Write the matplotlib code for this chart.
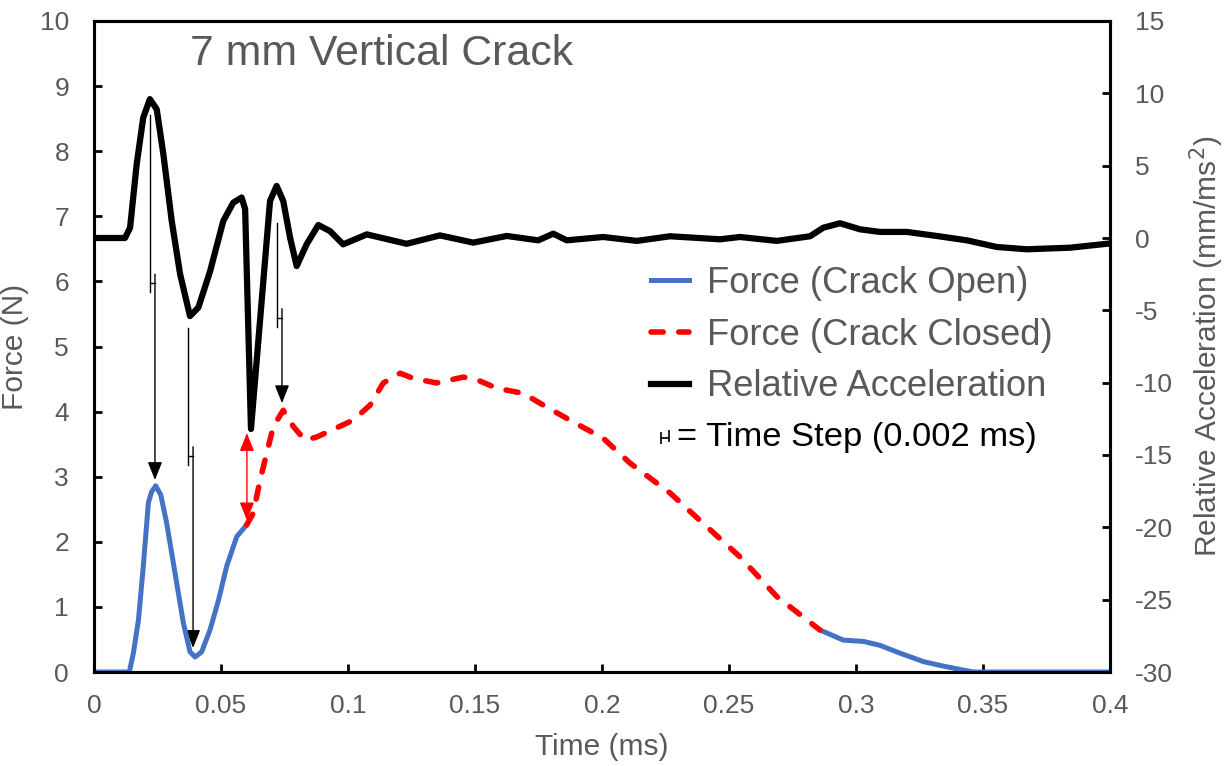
import numpy as np
import matplotlib
matplotlib.use("Agg")
import matplotlib.pyplot as plt
from matplotlib.lines import Line2D
from matplotlib.path import Path

plt.rcParams.update({'font.family': ['Liberation Sans', 'DejaVu Sans']})
plt.rcParams.update({'axes.linewidth': 2.2})
plt.rcParams.update({'axes.unicode_minus': False})

GREY = "#595959"
BLUE = "#4472C4"

# force while the crack is open (first part)
t_open1 = [0, 0.0139, 0.0155, 0.0175, 0.0194, 0.0214, 0.0227, 0.0243, 0.0263, 0.0286,
           0.0319, 0.0352, 0.0378, 0.0398, 0.0424, 0.0457, 0.049, 0.0522, 0.0562, 0.0601]
f_open1 = [0, 0, 0.29, 0.80, 1.62, 2.60, 2.77, 2.86, 2.72, 2.29,
           1.52, 0.75, 0.31, 0.23, 0.31, 0.65, 1.10, 1.62, 2.08, 2.26]

# force while the crack is closed
t_closed = [0.0601, 0.0627, 0.0654, 0.0706, 0.0745, 0.0785, 0.0831, 0.0877, 0.0955, 0.1021,
            0.1087, 0.1139, 0.1205, 0.1257, 0.1349, 0.1454, 0.1507, 0.1585, 0.169, 0.1782,
            0.1887, 0.2005, 0.211, 0.2268, 0.2399, 0.2543, 0.2688, 0.2858]
f_closed = [2.26, 2.44, 2.95, 3.77, 4.02, 3.77, 3.56, 3.61, 3.75, 3.87,
            4.10, 4.44, 4.59, 4.51, 4.44, 4.53, 4.49, 4.36, 4.28, 4.07,
            3.84, 3.59, 3.21, 2.75, 2.28, 1.77, 1.16, 0.645]

# force after the crack opens again
t_open2 = [0.2858, 0.295, 0.3029, 0.3094, 0.3173, 0.3265, 0.3344, 0.3422, 0.3462, 0.4]
f_open2 = [0.645, 0.49, 0.47, 0.41, 0.29, 0.16, 0.09, 0.03, 0, 0]

# relative acceleration (mm/ms^2)
t_acc = [0, 0.0122, 0.0142, 0.0168, 0.0194, 0.022, 0.0247, 0.0273, 0.0306, 0.0339,
         0.0378, 0.0411, 0.0457, 0.0509, 0.0548, 0.0581, 0.0595, 0.0618, 0.0693, 0.0719,
         0.0745, 0.0772, 0.0798, 0.0837, 0.0883, 0.0929, 0.0981, 0.1074, 0.1231, 0.1362,
         0.1493, 0.1625, 0.1749, 0.1808, 0.1861, 0.2005, 0.2137, 0.2268, 0.2465, 0.2543,
         0.2688, 0.2819, 0.2871, 0.2937, 0.3016, 0.3094, 0.32, 0.3318, 0.3436, 0.3554,
         0.3672, 0.3843, 0.3993]
acc = [0, 0, 0.71, 5.1, 8.33, 9.6, 8.9, 5.8, 1.18, -2.5,
       -5.4, -4.8, -2.3, 1.18, 2.44, 2.8, 2.0, -13.2, 2.56, 3.6,
       2.56, 0.02, -1.94, -0.44, 0.9, 0.48, -0.44, 0.25, -0.4, 0.18,
       -0.32, 0.14, -0.16, 0.3, -0.16, 0.07, -0.2, 0.12, -0.09, 0.07,
       -0.2, 0.12, 0.71, 1.02, 0.6, 0.42, 0.42, 0.14, -0.16, -0.62,
       -0.78, -0.67, -0.39]

# time-step markers: acceleration feature -> force feature (0.002 ms later)
step_t = [0.022, 0.037, 0.072]
step_dt = 0.002
step_top = [8.56, 5.28, 6.90]      # top of first leg
step_bar = [5.97, 3.32, 5.44]      # height of connecting bar
step_tip = [2.95, 0.37, 4.13]      # arrow tip on force curve
gap = 0.14

# jump of force when crack closes
jump_t = 0.0602
jump_lo, jump_hi = 2.33, 3.67

fig = plt.figure(figsize=(12.25, 7.66), dpi=100)
ax = fig.add_axes([94/1225, 1-672/766, 1016/1225, 651/766])
ax2 = ax.twinx()

ax.plot(t_open1, f_open1, color=BLUE, lw=3.6, solid_capstyle='round', zorder=3)
ax.plot(t_open2, f_open2, color=BLUE, lw=3.6, solid_capstyle='round', zorder=3)
ax.plot(t_closed, f_closed, color="red", lw=4, dashes=(2.2, 2.8),
        dash_capstyle='round', zorder=3)
ax2.plot(t_acc, acc, color="black", lw=4.5, solid_joinstyle='round', zorder=3)

arrow = dict(arrowstyle='-|>,head_length=0.55,head_width=0.22', color='black',
             lw=1.0, shrinkA=0, shrinkB=0, mutation_scale=20)
for t0, top, bar, tip in zip(step_t, step_top, step_bar, step_tip):
    t1 = t0 + step_dt
    ax.plot([t0, t0], [top, bar - gap], color='black', lw=1.0, zorder=2)
    ax.plot([t0, t1], [bar, bar], color='black', lw=1.0, zorder=2)
    ax.annotate("", xy=(t1, tip), xytext=(t1, bar + gap), arrowprops=arrow, zorder=2)

ax.annotate("", xy=(jump_t, jump_hi), xytext=(jump_t, jump_lo),
            arrowprops=dict(arrowstyle='<|-|>,head_length=0.55,head_width=0.22',
                            color='red', lw=1.0, shrinkA=0, shrinkB=0, mutation_scale=20),
            zorder=2)

ax.set_xlim(0, 0.4)
ax.set_ylim(0, 10)
ax2.set_ylim(-30, 15)
ax.set_xticks(np.arange(0, 0.401, 0.05))
ax.set_xticklabels(["0", "0.05", "0.1", "0.15", "0.2", "0.25", "0.3", "0.35", "0.4"])
ax.set_yticks(range(0, 11))
ax2.set_yticks(range(-30, 16, 5))

for a in (ax, ax2):
    a.tick_params(direction='in', length=6, width=2, labelsize=19, labelcolor=GREY)
ax.tick_params(axis='x', pad=16)
ax.tick_params(axis='y', pad=18)
ax2.tick_params(axis='y', pad=18)

ax.set_xlabel("Time (ms)", fontsize=21.5, color=GREY)
ax.set_ylabel("Force (N)", fontsize=21.5, color=GREY)
ax2.set_ylabel("Relative Acceleration (mm/ms$^2$)", fontsize=21.5, color=GREY)
ax.xaxis.set_label_coords(0.5, -0.093)
ax.yaxis.set_label_coords(-0.064, 0.5)
ax2.yaxis.set_label_coords(1.076, 0.5)

ax.text(0.0378, 9.5, "7 mm Vertical Crack", fontsize=30.8, color=GREY, va='center')

handles = [Line2D([], [], color=BLUE, lw=3.6),
           Line2D([], [], color='red', lw=4, dashes=(2.2, 2.8), dash_capstyle='round'),
           Line2D([], [], color='black', lw=4.5)]
labels = ["Force (Crack Open)", "Force (Crack Closed)", "Relative Acceleration"]
leg = ax2.legend(handles, labels, loc='upper left', bbox_to_anchor=(0.548, 0.624),
                 frameon=False, fontsize=26.2, labelcolor=GREY, handlelength=1.05,
                 handletextpad=0.5, labelspacing=0.46, borderpad=0, borderaxespad=0)

# time-step symbol next to its explanation
step_marker = Path([(-0.3, 0.35), (-0.3, -0.5), (-0.3, -0.05), (0.3, -0.05),
                    (0.3, 0.5), (0.3, -0.35)],
                   [Path.MOVETO, Path.LINETO, Path.MOVETO, Path.LINETO,
                    Path.MOVETO, Path.LINETO])
ax2.plot([(665-94)/1016], [(672-437)/651], marker=step_marker, markersize=10,
         markeredgewidth=1.2, color='black', transform=ax2.transAxes, clip_on=False)
ax2.text((677-94)/1016, (672-437)/651, "= Time Step (0.002 ms)", fontsize=24.8,
         color='black', va='center', ha='left', transform=ax2.transAxes)

plt.savefig("out.png", dpi=100)
